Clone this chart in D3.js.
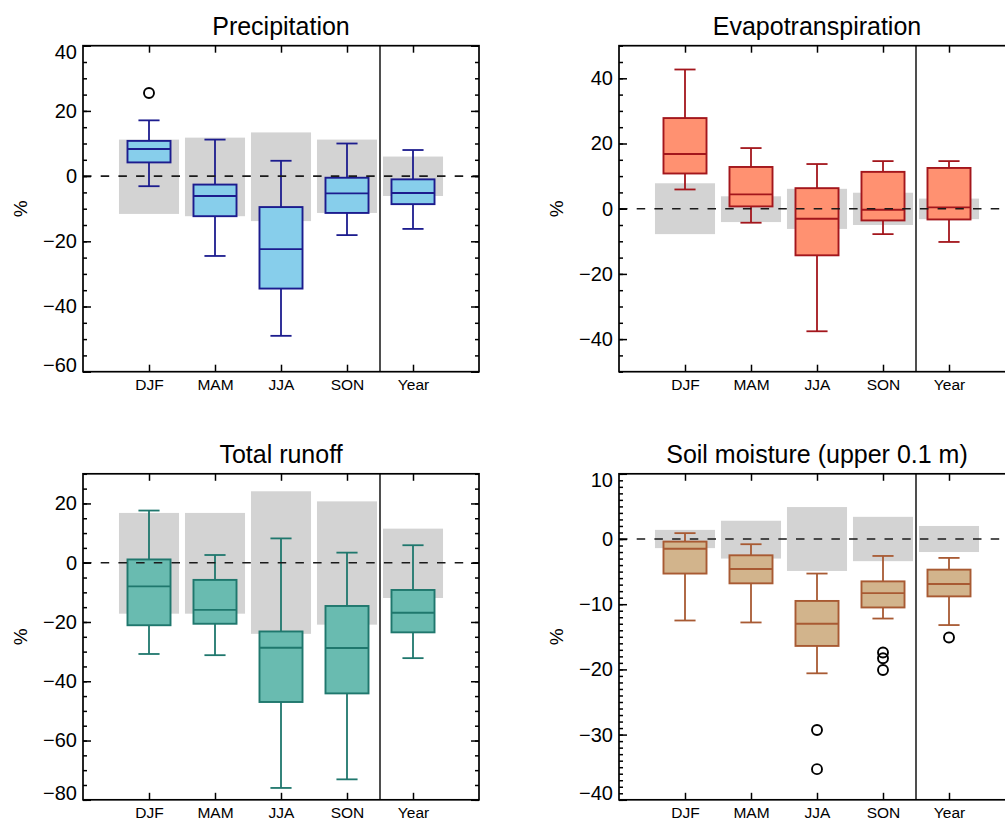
<!DOCTYPE html>
<html>
<head>
<meta charset="utf-8">
<script src="https://cdn.jsdelivr.net/npm/d3@7"></script>
<style>
  html, body { margin: 0; padding: 0; background: #fff; }
  svg { display: block; font-family: "Liberation Sans", Arial, Helvetica, sans-serif; }
</style>
</head>
<body>
<svg id="chart" width="1005" height="821"></svg>
<script>
// ---------- data ----------
const categories = ["DJF", "MAM", "JJA", "SON", "Year"];

// Precipitation (%)
const precipWhiskerLow  = [-3.1, -24.5, -49.0, -18.1, -16.2];
const precipBoxLow      = [4.2, -12.3, -34.5, -11.3, -8.6];
const precipMedian      = [8.3, -6.1, -22.4, -5.3, -5.2];
const precipBoxHigh     = [10.8, -2.6, -9.5, -0.5, -1.0];
const precipWhiskerHigh = [17.1, 11.2, 4.7, 10.0, 8.0];
const precipSpreadLow   = [-11.6, -12.3, -13.8, -11.3, -6.1];
const precipSpreadHigh  = [11.2, 11.8, 13.4, 11.2, 6.0];
const precipOutliers    = [[25.5], [], [], [], []];
const precipTicks       = [-60, -40, -20, 0, 20, 40];

// Evapotranspiration (%)
const evapWhiskerLow  = [5.9, -4.3, -37.6, -7.8, -10.2];
const evapBoxLow      = [10.8, 0.7, -14.3, -3.6, -3.3];
const evapMedian      = [16.8, 4.4, -3.1, -0.3, 0.4];
const evapBoxHigh     = [27.8, 12.8, 6.3, 11.3, 12.5];
const evapWhiskerHigh = [42.7, 18.6, 13.7, 14.6, 14.6];
const evapSpreadLow   = [-7.8, -4.1, -6.2, -5.0, -3.2];
const evapSpreadHigh  = [7.8, 3.8, 6.1, 4.9, 3.1];
const evapOutliers    = [[], [], [], [], []];
const evapTicks       = [-40, -20, 0, 20, 40];

// Total runoff (%)
const runoffWhiskerLow  = [-30.8, -31.2, -76.0, -73.1, -32.2];
const runoffBoxLow      = [-21.1, -20.6, -47.0, -44.1, -23.5];
const runoffMedian      = [-8.0, -15.9, -28.7, -28.8, -16.9];
const runoffBoxHigh     = [1.1, -5.8, -23.2, -14.6, -9.2];
const runoffWhiskerHigh = [17.6, 2.6, 8.2, 3.4, 5.9];
const runoffSpreadLow   = [-17.2, -17.2, -24.0, -20.9, -11.9];
const runoffSpreadHigh  = [16.8, 16.8, 24.1, 20.7, 11.5];
const runoffOutliers    = [[], [], [], [], []];
const runoffTicks       = [-80, -60, -40, -20, 0, 20];

// Soil moisture, upper 0.1 m (%)
const soilWhiskerLow  = [-12.5, -12.8, -20.6, -12.2, -13.2];
const soilBoxLow      = [-5.3, -6.8, -16.4, -10.5, -8.8];
const soilMedian      = [-1.5, -4.6, -13.0, -8.3, -6.9];
const soilBoxHigh     = [-0.4, -2.5, -9.5, -6.5, -4.7];
const soilWhiskerHigh = [0.9, -0.8, -5.3, -2.6, -2.9];
const soilSpreadLow   = [-1.4, -3.0, -4.9, -3.4, -2.0];
const soilSpreadHigh  = [1.4, 2.8, 4.9, 3.4, 2.0];
const soilOutliers    = [[], [], [-29.3, -35.3], [-17.4, -18.3, -20.1], [-15.1]];
const soilTicks       = [-40, -30, -20, -10, 0, 10];

// ---------- layout / style ----------
const panels = [
  { title: "Precipitation", left: 83, top: 45.7, domain: [-60, 40], ticks: precipTicks, minorStep: 5,
    fill: "#87ceeb", stroke: "#1c1c8e",
    wl: precipWhiskerLow, bl: precipBoxLow, md: precipMedian, bh: precipBoxHigh, wh: precipWhiskerHigh,
    sl: precipSpreadLow, sh: precipSpreadHigh, out: precipOutliers },
  { title: "Evapotranspiration", left: 619, top: 45.7, domain: [-50, 50], ticks: evapTicks, minorStep: 5,
    fill: "#ff9171", stroke: "#a3161c",
    wl: evapWhiskerLow, bl: evapBoxLow, md: evapMedian, bh: evapBoxHigh, wh: evapWhiskerHigh,
    sl: evapSpreadLow, sh: evapSpreadHigh, out: evapOutliers },
  { title: "Total runoff", left: 83, top: 473.8, domain: [-80, 30], ticks: runoffTicks, minorStep: 5,
    fill: "#69bbb0", stroke: "#1f776d",
    wl: runoffWhiskerLow, bl: runoffBoxLow, md: runoffMedian, bh: runoffBoxHigh, wh: runoffWhiskerHigh,
    sl: runoffSpreadLow, sh: runoffSpreadHigh, out: runoffOutliers },
  { title: "Soil moisture (upper 0.1 m)", left: 619, top: 473.8, domain: [-40, 10], ticks: soilTicks, minorStep: 1,
    fill: "#d2b48c", stroke: "#a85a33",
    wl: soilWhiskerLow, bl: soilBoxLow, md: soilMedian, bh: soilBoxHigh, wh: soilWhiskerHigh,
    sl: soilSpreadLow, sh: soilSpreadHigh, out: soilOutliers }
];

const PW = 396, PH = 326;
const svg = d3.select("#chart");

panels.forEach(p => {
  const g = svg.append("g").attr("transform", `translate(${p.left},${p.top})`);
  const x = d3.scaleLinear().domain([0, 6]).range([0, PW]);
  const y = d3.scaleLinear().domain(p.domain).range([PH, 0]);
  const idx = categories.map((c, i) => i);
  const pos = i => i + 1;
  const unit = x(1) - x(0);

  // grey spread bars
  g.selectAll("rect.spread").data(idx).join("rect")
    .attr("class", "spread")
    .attr("x", i => x(pos(i) - 0.455))
    .attr("width", unit * 0.91)
    .attr("y", i => y(p.sh[i]))
    .attr("height", i => y(p.sl[i]) - y(p.sh[i]))
    .attr("fill", "#d3d3d3");

  // whiskers
  g.selectAll("line.whisker").data(idx).join("line")
    .attr("x1", i => x(pos(i))).attr("x2", i => x(pos(i)))
    .attr("y1", i => y(p.wl[i])).attr("y2", i => y(p.wh[i]))
    .attr("stroke", p.stroke).attr("stroke-width", 1.8);
  ["wl", "wh"].forEach(k => {
    g.selectAll("line.cap-" + k).data(idx).join("line")
      .attr("class", "cap-" + k)
      .attr("x1", i => x(pos(i) - 0.16)).attr("x2", i => x(pos(i) + 0.16))
      .attr("y1", i => y(p[k][i])).attr("y2", i => y(p[k][i]))
      .attr("stroke", p.stroke).attr("stroke-width", 1.8);
  });

  // boxes
  g.selectAll("rect.box").data(idx).join("rect")
    .attr("class", "box")
    .attr("x", i => x(pos(i) - 0.326))
    .attr("width", unit * 0.652)
    .attr("y", i => y(p.bh[i]))
    .attr("height", i => y(p.bl[i]) - y(p.bh[i]))
    .attr("fill", p.fill).attr("stroke", p.stroke).attr("stroke-width", 1.9);
  g.selectAll("line.median").data(idx).join("line")
    .attr("class", "median")
    .attr("x1", i => x(pos(i) - 0.326)).attr("x2", i => x(pos(i) + 0.326))
    .attr("y1", i => y(p.md[i])).attr("y2", i => y(p.md[i]))
    .attr("stroke", p.stroke).attr("stroke-width", 1.9);

  // zero line
  g.append("line")
    .attr("x1", 0).attr("x2", PW).attr("y1", y(0)).attr("y2", y(0))
    .attr("stroke", "#1a1a1a").attr("stroke-width", 1.6)
    .attr("stroke-dasharray", "8.5,9.2");

  // separator before Year
  g.append("line")
    .attr("x1", x(4.5)).attr("x2", x(4.5)).attr("y1", 0).attr("y2", PH)
    .attr("stroke", "#222").attr("stroke-width", 1.6);

  // outliers
  const outPts = [];
  p.out.forEach((arr, i) => arr.forEach(v => outPts.push({ i, v })));
  g.selectAll("circle.out").data(outPts).join("circle")
    .attr("cx", d => x(pos(d.i))).attr("cy", d => y(d.v)).attr("r", 5)
    .attr("fill", "none").attr("stroke", "#000").attr("stroke-width", 1.9);

  // axes
  const minor = d3.range(p.domain[0], p.domain[1] + 1e-9, p.minorStep);
  const styleAxis = sel => {
    sel.select(".domain").remove();
    sel.selectAll(".tick line").attr("stroke", "#000").attr("stroke-width", 1.5);
  };
  const left = g.append("g")
    .call(d3.axisLeft(y).tickValues(p.ticks).tickSizeInner(-8).tickSizeOuter(0).tickPadding(6))
    .call(styleAxis);
  left.selectAll(".tick text").attr("font-size", 20).attr("fill", "#000")
    .attr("font-family", "'Liberation Sans', Arial, sans-serif");
  left.selectAll(".tick text").filter(d => d === p.domain[1]).attr("y", 6.5);
  left.selectAll(".tick text").filter(d => d === p.domain[0]).attr("y", -6.5);
  g.append("g").call(d3.axisLeft(y).tickValues(minor).tickSize(-4).tickFormat("")).call(styleAxis);
  g.append("g").attr("transform", `translate(${PW},0)`)
    .call(d3.axisRight(y).tickValues(p.ticks).tickSize(-8).tickFormat("")).call(styleAxis);
  g.append("g").attr("transform", `translate(${PW},0)`)
    .call(d3.axisRight(y).tickValues(minor).tickSize(-4).tickFormat("")).call(styleAxis);

  const bottom = g.append("g").attr("transform", `translate(0,${PH})`)
    .call(d3.axisBottom(x).tickValues([1, 2, 3, 4, 5]).tickSize(-7).tickPadding(7.5)
      .tickFormat(v => categories[v - 1]))
    .call(styleAxis);
  bottom.selectAll(".tick text").attr("font-size", 15.5).attr("fill", "#000")
    .attr("font-family", "'Liberation Sans', Arial, sans-serif");
  g.append("g")
    .call(d3.axisTop(x).tickValues([1, 2, 3, 4, 5]).tickSize(-7).tickFormat(""))
    .call(styleAxis);

  // frame
  g.append("rect").attr("x", 0).attr("y", 0).attr("width", PW).attr("height", PH)
    .attr("fill", "none").attr("stroke", "#000").attr("stroke-width", 1.7);

  // title
  g.append("text").attr("x", PW / 2).attr("y", -10.7)
    .attr("text-anchor", "middle").attr("font-size", 25).attr("fill", "#000")
    .text(p.title);

  // y label
  g.append("text")
    .attr("transform", `translate(-63,${PH / 2}) rotate(-90)`)
    .attr("text-anchor", "middle").attr("dominant-baseline", "central")
    .attr("font-size", 19).attr("fill", "#000")
    .text("%");
});
</script>
</body>
</html>
